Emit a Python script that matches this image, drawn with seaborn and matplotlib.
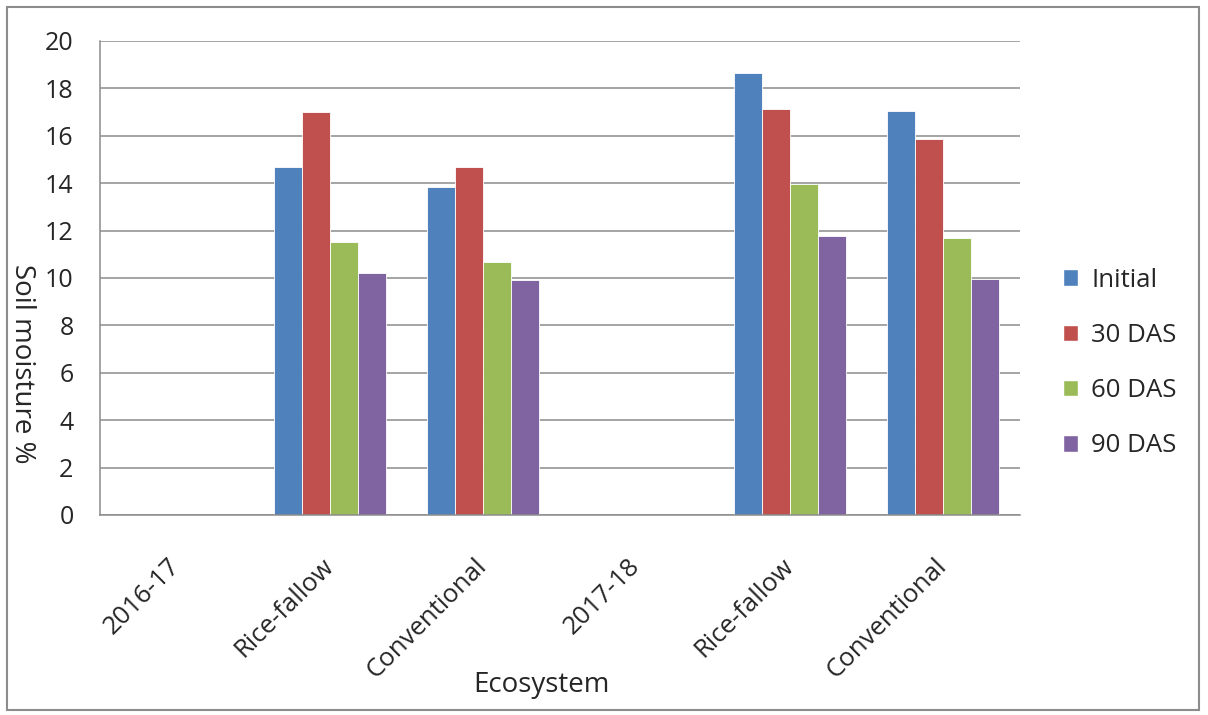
import pandas as pd
import numpy as np
import matplotlib
matplotlib.use("Agg")
import matplotlib.pyplot as plt
import matplotlib.patches as mpatches
import seaborn as sns

# data
categories = ["2016-17", "Rice-fallow", "Conventional", "2017-18", "Rice-fallow", "Conventional"]
series = ["Initial", "30 DAS", "60 DAS", "90 DAS"]
initial = [np.nan, 14.67, 13.83, np.nan, 18.63, 17.05]
das30 = [np.nan, 16.99, 14.67, np.nan, 17.12, 15.85]
das60 = [np.nan, 11.53, 10.69, np.nan, 13.97, 11.70]
das90 = [np.nan, 10.20, 9.90, np.nan, 11.77, 9.94]

colors = ["#4F81BD", "#C0504D", "#9BBB59", "#8064A2"]

# unique keys because labels repeat
keys = [f"{i}_{c}" for i, c in enumerate(categories)]
rows = []
for name, vals in zip(series, [initial, das30, das60, das90]):
    for k, v in zip(keys, vals):
        rows.append({"cat": k, "series": name, "value": v})
df = pd.DataFrame(rows)

sns.set_style("white")
plt.rcParams["font.family"] = ["Open Sans", "DejaVu Sans"]

fig = plt.figure(figsize=(12.08, 7.15), dpi=100)
ax = fig.add_axes([100 / 1208, 200 / 715, 920 / 1208, 474 / 715])

sns.barplot(data=df, x="cat", y="value", hue="series", order=keys,
            hue_order=series, palette=colors, width=0.73, gap=0,
            saturation=1, edgecolor="white", linewidth=0.6, ax=ax, legend=False)

ax.set_ylim(0, 20)
ax.set_xlim(-0.5, len(keys) - 0.5)
ax.set_yticks(np.arange(0, 21, 2))
ax.yaxis.grid(True, color="#8c8c8c", linewidth=1.1)
ax.set_axisbelow(True)

# major ticks on category boundaries, labels at centres
ax.set_xticks(np.arange(-0.5, len(keys), 1.0))
ax.set_xticklabels([])
ax.set_xticks(np.arange(len(keys)), minor=True)
ax.set_xticklabels(categories, minor=True, rotation=45, ha="right", va="center",
                   rotation_mode="anchor", fontsize=18.5)
ax.tick_params(axis="x", which="major", length=8, color="#8c8c8c", direction="out")
ax.tick_params(axis="x", which="minor", length=0, pad=34)
ax.tick_params(axis="y", length=8, color="#8c8c8c", direction="out", labelsize=18, pad=11)

for s in ["top", "right"]:
    ax.spines[s].set_visible(False)
for s in ["left", "bottom"]:
    ax.spines[s].set_color("#8c8c8c")
    ax.spines[s].set_linewidth(1.1)

ax.set_xlabel("")
ax.set_ylabel("")
fig.text(541 / 1208, 1 - 692 / 715, "Ecosystem", ha="center", va="baseline", fontsize=20)
fig.text(22 / 1208, 1 - 364 / 715, "Soil moisture %", ha="center", va="center",
         rotation=-90, fontsize=20)

handles = [mpatches.Patch(facecolor=c, edgecolor="white") for c in colors]
fig.legend(handles, series, loc="center left", bbox_to_anchor=(1063 / 1208, 1 - 363 / 715),
           frameon=False, fontsize=18.5, labelspacing=1.18, handlelength=0.6,
           handleheight=0.6, handletextpad=0.5, borderpad=0, borderaxespad=0)

fig.patches.append(mpatches.Rectangle((7 / 1208, 5 / 715), 1192 / 1208, 703 / 715,
                                      transform=fig.transFigure, fill=False,
                                      edgecolor="#8c8c8c", linewidth=1.5))

fig.savefig("out.png", dpi=100)
